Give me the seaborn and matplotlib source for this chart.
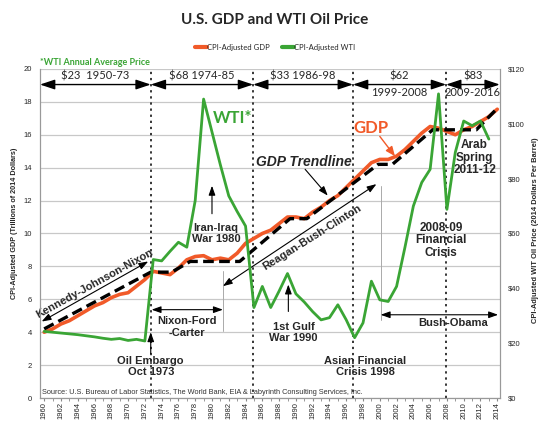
import numpy as np
import pandas as pd
import seaborn as sns
import matplotlib
matplotlib.use("Agg")
import matplotlib.pyplot as plt

# CPI-adjusted GDP, trillions of 2014 dollars
years = list(range(1960, 2015))
gdp = [4.0, 4.2, 4.5, 4.7, 5.0, 5.3, 5.6, 5.8, 6.1, 6.3,
       6.4, 6.8, 7.2, 7.7, 7.6, 7.5, 7.9, 8.4, 8.6, 8.65,
       8.4, 8.5, 8.4, 8.8, 9.4, 9.7, 10.0, 10.2, 10.6, 11.0,
       11.0, 10.9, 11.3, 11.6, 12.0, 12.3, 12.8, 13.3, 13.8, 14.3,
       14.5, 14.5, 14.7, 15.1, 15.6, 16.1, 16.5, 16.4, 16.2, 16.0,
       16.3, 16.5, 16.8, 17.1, 17.55]

# CPI-adjusted WTI annual average, 2014 dollars per barrel
wti_years = list(range(1960, 2014))
wti = [24.3, 24.0, 23.7, 23.4, 23.1, 22.7, 22.3, 21.8, 21.4, 21.7,
       21.0, 21.4, 20.8, 50.5, 50.0, 53.5, 56.8, 55.0, 72.0, 109.0,
       97.0, 85.0, 73.7, 68.0, 62.7, 33.0, 40.7, 33.0, 39.0, 45.4,
       38.0, 35.0, 31.5, 28.5, 29.3, 34.0, 28.5, 22.0, 27.4, 42.6,
       35.8, 35.2, 40.7, 55.0, 70.0, 78.6, 83.4, 110.9, 68.8, 89.6,
       101.0, 99.3, 101.0, 94.4]

# hand drawn GDP trendline
trend_years = [1960, 1972.7, 1975.2, 1977.4, 1983.3, 1989.3, 1991.3,
               1999.8, 2001.5, 2006.3, 2011.5, 2014]
trend_gdp = [4.2, 7.65, 7.65, 8.3, 8.3, 10.9, 10.9, 14.2, 14.2, 16.3, 16.3, 17.6]

# price eras
era_bounds = [1959.5, 1972.7, 1984.9, 1996.8, 2007.9, 2014.3]
era_prices = ["$23  1950-73", "$68 1974-85", "$33 1986-98", "$62", "$83"]
era_below = ["", "", "", "1999-2008", "2009-2016"]

ORANGE = "#f15a29"
GREEN = "#3aa535"

sns.set_style("white")
plt.rcParams["font.family"] = ["Liberation Sans", "DejaVu Sans"]

fig = plt.figure(figsize=(5.5, 4.28), dpi=100)
ax = fig.add_axes([0.0727, 0.070, 0.836, 0.769])
ax2 = ax.twinx()

ax.grid(axis="y", color="#c8c8c8", lw=0.9)
ax.set_axisbelow(True)

for xv in era_bounds[1:-1]:
    ax.axvline(xv, color="black", ls=(0, (1.5, 2.5)), lw=1.1, zorder=1)

sns.lineplot(x=years, y=gdp, ax=ax, color=ORANGE, lw=2.6, zorder=3)
sns.lineplot(x=trend_years, y=trend_gdp, ax=ax, color="black", lw=2.4,
             ls=(0, (3.2, 1.6)), zorder=4)
sns.lineplot(x=wti_years, y=wti, ax=ax2, color=GREEN, lw=2.0, zorder=5)

ax.set_xlim(1959.5, 2014.3)
ax.set_ylim(0, 20)
ax2.set_ylim(0, 120)
ax.set_yticks(range(0, 21, 2))
ax2.set_yticks(range(0, 121, 20))
ax2.set_yticklabels([f"${v}" for v in range(0, 121, 20)])
ax.set_xticks(range(1960, 2015, 2))
ax.set_xticks(range(1960, 2015), minor=True)
ax.tick_params(axis="x", which="both", direction="out", length=2, color="#888888",
               labelsize=5.5, rotation=90, pad=1, bottom=True)
ax.tick_params(axis="y", labelsize=5.5, length=0, pad=6)
ax2.tick_params(axis="y", labelsize=5.5, length=0, pad=6)
for sp in ["left", "bottom", "right"]:
    ax.spines[sp].set_color("#999999")
    ax2.spines[sp].set_color("#999999")
ax.spines["top"].set_visible(False)
ax2.spines["top"].set_visible(False)

ax.set_ylabel("CPI-Adjusted GDP (Trillions of 2014 Dollars)", fontsize=5.2, fontweight="bold")
ax.yaxis.set_label_coords(-0.048, 0.53)
ax2.set_ylabel("CPI-Adjusted WIT Oil Price (2014 Dollars Per Barrel)", fontsize=5.4,
               fontweight="bold", rotation=90)
ax2.yaxis.set_label_coords(1.07, 0.51)

# era arrows along the top
arrow_kw = dict(arrowstyle="<|-|>,head_length=0.9,head_width=0.3", color="black", lw=1.0,
                shrinkA=0, shrinkB=0, mutation_scale=10)
for i, lab in enumerate(era_prices):
    a, b = era_bounds[i], era_bounds[i + 1]
    ax.annotate("", xy=(b, 19.05), xytext=(a, 19.05), arrowprops=arrow_kw)
    mid = (a + b) / 2
    ax.text(mid, 19.55, lab, ha="center", va="center", fontsize=8,
            family=["Lato", "DejaVu Sans"])
    if era_below[i]:
        ax.text(mid, 18.55, era_below[i], ha="center", va="center", fontsize=8,
                family=["Lato", "DejaVu Sans"])

ann = dict(ha="center", va="center", fontsize=8, fontweight="bold",
           family=["Liberation Sans Narrow", "Liberation Sans", "DejaVu Sans"])
thin = dict(arrowstyle="<|-|>,head_length=0.7,head_width=0.25", color="black", lw=0.8,
            shrinkA=0, shrinkB=0, mutation_scale=8)
up = dict(arrowstyle="-|>,head_length=0.7,head_width=0.25", color="black", lw=0.8,
          shrinkA=0, shrinkB=0, mutation_scale=8)

ax.text(1982.4, 17.0, "WTI*", color=GREEN, fontsize=12, ha="center", va="center",
        fontweight="bold", family=["Lato", "DejaVu Sans"])
ax.text(1999.0, 16.4, "GDP", color=ORANGE, fontsize=12, ha="center", va="center",
        fontweight="bold", family=["Lato", "DejaVu Sans"])
ax.annotate("", xy=(2001.8, 14.7), xytext=(2000.0, 15.9),
            arrowprops=dict(arrowstyle="-|>,head_length=0.7,head_width=0.3", color=ORANGE,
                            lw=1.0, shrinkA=0, shrinkB=0, mutation_scale=8))
ax.text(1991.0, 14.35, "GDP Trendline", fontsize=10, fontweight="bold", style="italic",
        ha="center", va="center")
ax.annotate("", xy=(1993.8, 12.3), xytext=(1991.1, 13.9), arrowprops=up)

ax.annotate("", xy=(1972.4, 8.3), xytext=(1959.7, 4.65), arrowprops=thin)
ax.text(1966.0, 6.95, "Kennedy-Johnson-Nixon", rotation=29, **ann)

ax.annotate("", xy=(1999.6, 13.0), xytext=(1981.3, 6.8), arrowprops=thin)
ax.text(1991.9, 9.75, "Reagan-Bush-Clinton", rotation=32, **ann)
ax.plot([1981.3, 1981.3], [4.1, 7.7], color="#aaaaaa", lw=0.7)
ax.plot([2000.1, 2000.1], [4.75, 12.9], color="#aaaaaa", lw=0.7)

ax.annotate("", xy=(1981.3, 5.37), xytext=(1972.8, 5.37), arrowprops=thin)
ax.text(1977.0, 4.3, "Nixon-Ford\n-Carter", linespacing=1.2, **ann)

ax.annotate("", xy=(2014.1, 5.06), xytext=(2000.1, 5.06), arrowprops=thin)
ax.text(2008.7, 4.55, "Bush-Obama", **ann)

ax.annotate("", xy=(1980.0, 12.9), xytext=(1980.0, 11.2), arrowprops=up)
ax.text(1980.5, 10.0, "Iran-Iraq\nWar 1980", linespacing=1.1, **ann)

ax.annotate("", xy=(1989.1, 6.9), xytext=(1989.1, 5.26), arrowprops=up)
ax.text(1989.7, 4.0, "1st Gulf\nWar 1990", linespacing=1.1, **ann)

ax.annotate("", xy=(1972.7, 4.0), xytext=(1972.7, 2.7), arrowprops=up)
ax.text(1972.7, 1.9, "Oil Embargo\nOct 1973", linespacing=1.1, **ann)
ax.text(1998.3, 1.9, "Asian Financial\nCrisis 1998", linespacing=1.1, **ann)

ax.text(2007.3, 9.6, "2008-09\nFinancial\nCrisis", linespacing=1.05,
        **{**ann, "fontsize": 8.5})
ax.text(2011.3, 14.6, "Arab\nSpring\n2011-12", linespacing=1.05,
        **{**ann, "fontsize": 8.5})

ax.text(1959.7, 0.35, "Source: U.S. Bureau of Labor Statistics, The World Bank, EIA & "
        "Labyrinth Consulting Services, Inc.", fontsize=5.3, ha="left", va="center",
        color="#333333")

fig.text(0.5, 0.953, "U.S. GDP and WTI Oil Price", ha="center", va="center",
         fontsize=11, fontweight="bold", family=["Lato", "DejaVu Sans"])
fig.text(0.073, 0.855, "*WTI Annual Average Price", ha="left", va="center",
         fontsize=6.5, fontweight="bold", color=GREEN, family=["Lato", "DejaVu Sans"])

handles = [plt.Line2D([], [], color=ORANGE, lw=3),
           plt.Line2D([], [], color=GREEN, lw=3)]
fig.legend(handles, ["CPI-Adjusted GDP", "CPI-Adjusted WTI"], loc="center",
           bbox_to_anchor=(0.5, 0.89), ncol=2, frameon=False, handlelength=1.6,
           handletextpad=0.0, columnspacing=1.5, prop={"size": 5.5, "family": ["Lato", "DejaVu Sans"]})

fig.savefig("out.png", dpi=100)
